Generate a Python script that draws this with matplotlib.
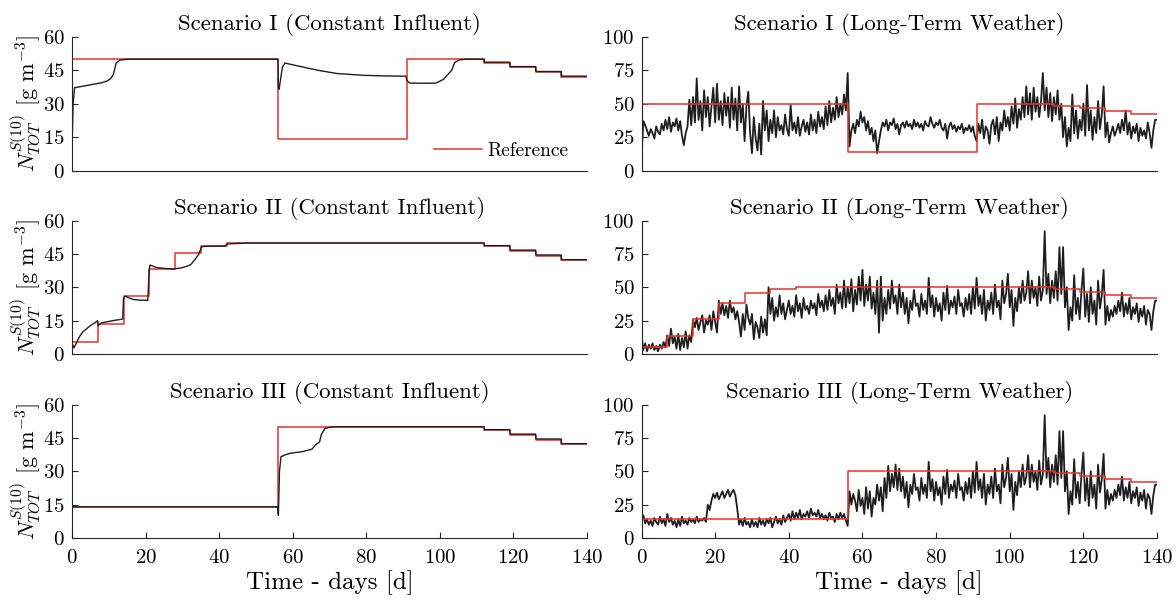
import numpy as np
import matplotlib
matplotlib.use("Agg")
import matplotlib.pyplot as plt

plt.rcParams['font.family'] = ['cmr10', 'DejaVu Serif']
plt.rcParams['mathtext.fontset'] = 'cm'
plt.rcParams['axes.formatter.use_mathtext'] = True
plt.rcParams['axes.unicode_minus'] = False

RED = '#e8302a'
BLK = '#1e1e1e'

# ---------------- reference (set-point) step series ----------------
ref1_t = [0, 56, 56, 91, 91, 112, 112, 119, 119, 126, 126, 133, 133, 140]
ref1_v = [50, 50, 14, 14, 50, 50, 48.5, 48.5, 46.5, 46.5, 44.2, 44.2, 42.1, 42.1]

ref2_t = [0, 7, 7, 14, 14, 21, 21, 28, 28, 35, 35, 42, 42, 112, 112, 119, 119, 126, 126, 133, 133, 140]
ref2_v = [5.5, 5.5, 13.5, 13.5, 26, 26, 38, 38, 45.5, 45.5, 48.5, 48.5, 49.9, 49.9,
          48.5, 48.5, 46.5, 46.5, 44.2, 44.2, 42.1, 42.1]

ref3_t = [0, 56, 56, 112, 112, 119, 119, 126, 126, 133, 133, 140]
ref3_v = [14, 14, 50, 50, 48.5, 48.5, 46.5, 46.5, 44.2, 44.2, 42.1, 42.1]

# ---------------- constant influent responses ----------------
c1_t = [0, 0.3, 0.7, 2, 4, 6, 8, 9.5, 10.5, 11.2, 11.6, 12, 13, 15, 56, 56.1, 56.3, 56.7,
        57.2, 57.9, 60, 63.6, 67, 72, 79, 85, 90.8, 91, 91.8, 95, 99, 101, 102.2, 103.2,
        104, 105.3, 107, 112, 112.1, 119, 119.1, 126, 126.1, 133, 133.1, 140]
c1_v = [9.5, 30, 37.2, 37.6, 38.2, 38.8, 39.4, 40.2, 41.3, 43, 45.5, 48.3, 49.6, 50, 50, 38,
        36.5, 41, 46.5, 48.3, 47.5, 46.2, 45, 43.6, 42.8, 42.5, 42.4, 40.5, 39.3, 39.2, 39.3,
        41, 43.2, 45, 48.5, 49.7, 50, 50, 48.7, 48.7, 46.7, 46.7, 44.5, 44.5, 42.4, 42.4]

c2_t = [0, 0.5, 1.2, 2.1, 3, 4.2, 5.2, 6.3, 7.0, 7.1, 8, 11.5, 13.8, 14.0, 14.4, 15.5, 16.7,
        18.5, 20.6, 21.0, 21.2, 22.9, 25, 27.6, 29.7, 31, 32.3, 33.4, 34.4, 35.2, 36, 41.7,
        42.0, 42.4, 48, 112, 112.1, 119, 119.1, 126, 126.1, 133, 133.1, 140]
c2_v = [5, 2.7, 5, 8, 10, 11.7, 13, 14.1, 15, 12.7, 14, 15.1, 15.7, 25, 26, 25.2, 24.5,
        24.2, 24.1, 38, 40, 38.9, 38.5, 38.2, 38.7, 39.3, 40.2, 42.4, 44.7, 48.1, 48.4, 48.5,
        49.3, 49.5, 49.9, 49.9, 48.7, 48.7, 46.7, 46.7, 44.5, 44.5, 42.4, 42.4]

c3_t = [0, 55.9, 56.1, 56.4, 56.8, 58, 59.4, 62.6, 65.2, 66.2, 67.3, 67.8, 68.8, 70.9,
        112, 112.1, 119, 119.1, 126, 126.1, 133, 133.1, 140]
c3_v = [14, 14, 10.2, 30, 36.5, 37.4, 38.1, 38.8, 39.9, 41.8, 43.2, 46.6, 49.3, 50,
        50, 48.7, 48.7, 46.7, 46.7, 44.5, 44.5, 42.4, 42.4]

# ---------------- long-term weather responses (every 0.5 d) ----------------
w1_v = [9, 37, 34, 30, 26, 31, 28, 24, 33, 29,
        27, 35, 30, 38, 31, 40, 29, 36, 33, 39,
        30, 37, 26, 19, 28, 33, 53, 34, 55, 36,
        69, 38, 52, 30, 60, 40, 55, 33, 48, 62,
        36, 65, 38, 52, 34, 58, 41, 55, 32, 62,
        38, 54, 30, 63, 36, 50, 22, 48, 59, 28,
        13, 40, 24, 15, 35, 12, 52, 30, 45, 22,
        38, 28, 45, 25, 40, 30, 34, 27, 42, 31,
        26, 49, 30, 36, 28, 40, 26, 33, 38, 29,
        36, 27, 42, 30, 38, 28, 44, 33, 40, 31,
        48, 34, 52, 36, 47, 38, 55, 40, 50, 42,
        57, 45, 73, 18, 30, 35, 28, 38, 33, 44,
        36, 40, 30, 37, 27, 32, 22, 30, 13, 22,
        30, 36, 33, 38, 30, 36, 34, 39, 31, 35,
        27, 34, 36, 32, 37, 33, 35, 31, 38, 33,
        36, 32, 35, 30, 37, 34, 33, 40, 35, 32,
        36, 34, 38, 32, 30, 35, 24, 33, 36, 31,
        34, 29, 33, 31, 35, 28, 32, 30, 34, 29,
        33, 26, 22, 35, 28, 38, 24, 33, 30, 20,
        34, 38, 27, 40, 22, 36, 30, 45, 33, 40,
        30, 48, 35, 54, 32, 46, 38, 55, 40, 63,
        42, 58, 38, 62, 44, 55, 40, 52, 73, 45,
        62, 40, 58, 37, 55, 42, 60, 38, 50, 25,
        40, 18, 32, 22, 57, 28, 45, 24, 38, 30,
        50, 26, 64, 30, 45, 23, 40, 28, 52, 31,
        42, 63, 25, 36, 21, 28, 33, 26, 30, 35,
        28, 38, 30, 45, 27, 36, 24, 33, 28, 35,
        22, 32, 26, 30, 24, 36, 28, 17, 30, 38,
        38]

w2_head = [14, 3, 8, 2, 7, 4, 8, 3, 6, 2,
           7, 4, 9, 5, 14, 6, 19, 8, 13, 4,
           15, 3, 12, 5, 17, 4, 14, 9, 26, 20,
           27, 18, 24, 29, 16, 25, 22, 29, 18, 32,
           24, 16, 40, 30, 38, 29, 36, 27, 40, 31,
           35, 26, 32, 24, 13, 30, 18, 37, 27, 22,
           30, 11, 24, 20, 12, 28, 16, 26, 14, 50,
           30, 42, 25, 35, 28, 44, 30, 38, 26, 33,
           40, 30, 36, 28, 44, 32, 38, 27, 42, 33,
           36, 30, 40, 34, 38, 29, 45, 35, 40, 32,
           44, 33, 48, 36, 42, 30, 52, 38, 46, 34,
           55, 35, 50, 38, 56, 32, 48, 37, 58, 40,
           63, 36, 52, 40, 58, 34, 46, 30, 55, 16,
           58, 25, 42, 30, 48, 34, 55, 38, 44, 30]

w3_head = [12, 17, 11, 14, 10, 13, 9, 15, 12, 10,
           16, 11, 14, 9, 18, 12, 15, 10, 13, 8,
           14, 9, 16, 11, 13, 10, 15, 12, 14, 11,
           16, 12, 14, 13, 15, 12, 25, 21, 28, 33,
           30, 34, 29, 32, 35, 30, 33, 36, 31, 34,
           36, 32, 22, 10, 14, 9, 15, 10, 12, 8,
           14, 9, 12, 8, 15, 10, 13, 9, 14, 11,
           15, 8, 12, 16, 11, 14, 10, 17, 12, 15,
           18, 13, 20, 14, 19, 15, 21, 14, 18, 16,
           20, 15, 22, 17, 19, 16, 21, 15, 18, 14,
           17, 13, 19, 15, 16, 12, 18, 14, 19, 15,
           18, 13, 9, 35, 25, 33, 28, 20, 36, 24,
           30, 18, 38, 22, 35, 16, 30, 25, 40, 28,
           38, 20, 45, 30, 54, 35, 48, 38, 55, 36]

# day 70-140, shared by scenarios II and III (identical in the source)
w23_tail = [52, 35, 46, 30, 42, 23, 40, 33, 48, 36,
            38, 28, 45, 33, 40, 30, 57, 35, 44, 28,
            42, 32, 38, 25, 46, 33, 51, 30, 40, 35,
            43, 30, 48, 36, 38, 28, 42, 33, 45, 30,
            50, 34, 57, 36, 44, 30, 48, 25, 40, 33,
            46, 30, 52, 35, 40, 26, 55, 38, 45, 60,
            35, 48, 21, 42, 32, 50, 38, 55, 40, 46,
            62, 38, 55, 42, 50, 36, 58, 40, 48, 92,
            45, 60, 38, 55, 42, 62, 40, 80, 45, 80,
            35, 50, 18, 35, 25, 59, 30, 42, 26, 48,
            64, 28, 45, 24, 50, 30, 40, 22, 55, 34,
            44, 63, 22, 36, 25, 33, 28, 36, 30, 40,
            32, 46, 28, 38, 30, 42, 26, 35, 30, 38,
            24, 34, 28, 36, 22, 33, 30, 18, 32, 40,
            40]

w2_v = w2_head + w23_tail
w3_v = w3_head + w23_tail
w_t = np.linspace(0, 140, len(w1_v))

titles_left = ['Scenario I (Constant Influent)', 'Scenario II (Constant Influent)',
               'Scenario III (Constant Influent)']
titles_right = ['Scenario I (Long-Term Weather)', 'Scenario II (Long-Term Weather)',
                'Scenario III (Long-Term Weather)']
left_ticks = [0, 15, 30, 45, 60]
right_ticks = [0, 25, 50, 75, 100]
x_ticks = [0, 20, 40, 60, 80, 100, 120, 140]

fig = plt.figure(figsize=(11.76, 6.03), dpi=100)
W, H = 1176, 603
lx0, lx1 = 72, 587
rx0, rx1 = 641.5, 1157
rows = [(37, 170.5), (220.5, 354), (404.5, 538)]

refs = [(ref1_t, ref1_v), (ref2_t, ref2_v), (ref3_t, ref3_v)]
cons = [(c1_t, c1_v), (c2_t, c2_v), (c3_t, c3_v)]
wths = [w1_v, w2_v, w3_v]

for i, (ytop, ybot) in enumerate(rows):
    bottom = 1 - ybot / H
    height = (ybot - ytop) / H
    axl = fig.add_axes([lx0 / W, bottom, (lx1 - lx0) / W, height])
    axr = fig.add_axes([rx0 / W, bottom, (rx1 - rx0) / W, height])

    rt, rv = refs[i]
    ct, cv = cons[i]
    ln_ref, = axl.plot(rt, rv, color=RED, lw=1.1, label='Reference')
    axl.plot(ct, cv, color=BLK, lw=1.0)
    axl.set_ylim(0, 60)
    axl.set_yticks(left_ticks)

    axr.plot(w_t, wths[i], color=BLK, lw=1.3)
    axr.plot(rt, rv, color=RED, lw=1.1)
    axr.set_ylim(0, 100)
    axr.set_yticks(right_ticks)

    axl.set_title(titles_left[i], fontsize=16.5, pad=5)
    axr.set_title(titles_right[i], fontsize=16.5, pad=5)
    axl.set_ylabel(r'$N_{TOT}^{S(10)}$ [g m$^{-3}$]', fontsize=16, labelpad=1)

    for ax in (axl, axr):
        ax.set_xlim(0, 140)
        ax.set_xticks(x_ticks)
        for s in ('top', 'right'):
            ax.spines[s].set_visible(False)
        ax.spines['left'].set_color('#262626')
        ax.spines['bottom'].set_color('#262626')
        ax.tick_params(direction='in', labelsize=15, length=4, color='#262626', pad=5)
        if i < 2:
            ax.tick_params(axis='x', bottom=False, labelbottom=False)
        else:
            ax.tick_params(axis='x', pad=8)
            ax.set_xlabel('Time - days [d]', fontsize=18, labelpad=2)

    if i == 0:
        axl.legend(handles=[ln_ref], loc='lower right', frameon=False, fontsize=14,
                   handlelength=2.5, handletextpad=0.25, borderaxespad=0.3,
                   bbox_to_anchor=(0.99, -0.02))

fig.savefig('out.png', dpi=100)
